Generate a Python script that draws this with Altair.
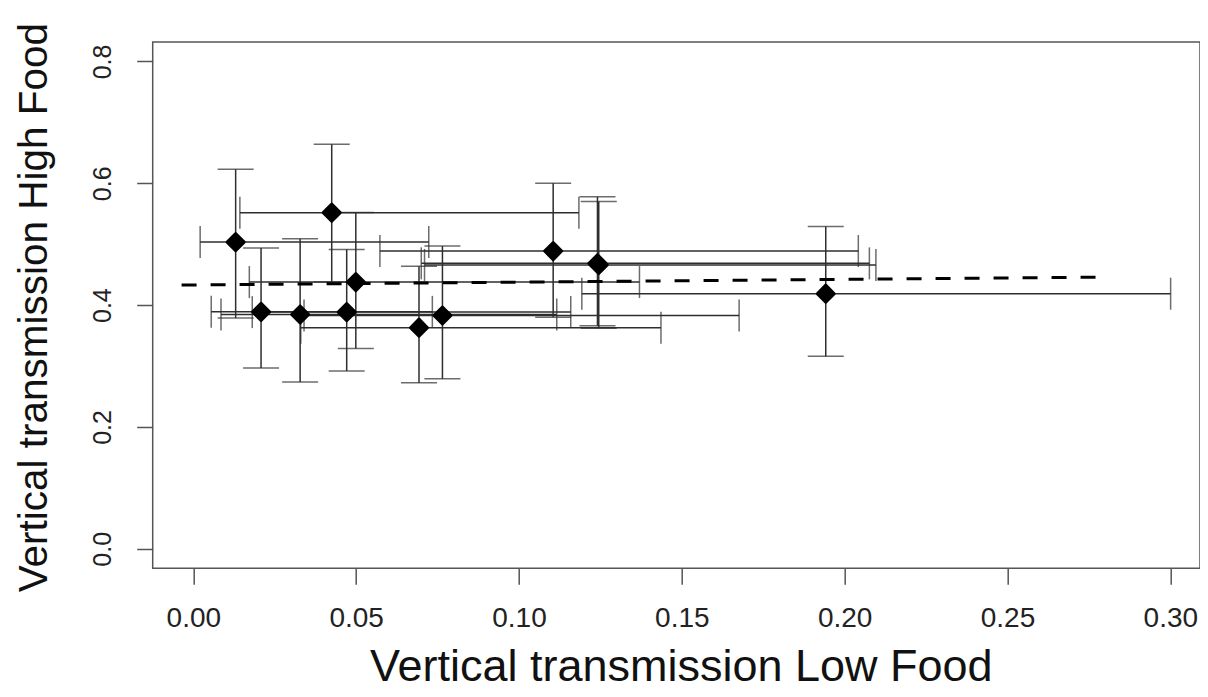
import altair as alt
import pandas as pd

# Point estimates and confidence limits
x_val = [0.0130, 0.0425, 0.0208, 0.0328, 0.0471, 0.0499, 0.0693, 0.0765, 0.1105, 0.1241, 0.1245, 0.1942]
x_lo = [0.0021, 0.0143, 0.0055, 0.0085, 0.0181, 0.0172, 0.0330, 0.0340, 0.0573, 0.0700, 0.0710, 0.1193]
x_hi = [0.0723, 0.1184, 0.0734, 0.1116, 0.1159, 0.1370, 0.1436, 0.1676, 0.2042, 0.2076, 0.2096, 0.3001]
y_val = [0.5035, 0.5518, 0.3890, 0.3847, 0.3886, 0.4379, 0.3630, 0.3830, 0.4888, 0.4686, 0.4660, 0.4188]
y_lo = [0.379, 0.438, 0.297, 0.274, 0.292, 0.329, 0.2726, 0.279, 0.380, 0.366, 0.362, 0.316]
y_hi = [0.623, 0.664, 0.494, 0.509, 0.4915, 0.552, 0.464, 0.497, 0.600, 0.578, 0.570, 0.529]

# Dashed fitted line end points
fit_x = [-0.0036, 0.2774]
fit_y = [0.433, 0.446]

x_ticks = [0.0, 0.05, 0.10, 0.15, 0.20, 0.25, 0.30]
y_ticks = [0.0, 0.2, 0.4, 0.6, 0.8]

x_title = "Vertical transmission Low Food"
y_title = "Vertical transmission High Food"

df = pd.DataFrame(dict(x=x_val, xlo=x_lo, xhi=x_hi, y=y_val, ylo=y_lo, yhi=y_hi))
fit = pd.DataFrame(dict(x=fit_x, y=fit_y))

W = 1047.3
H = 526.3
FONT = "Liberation Sans"
LINE = "#2e2e2e"

xs = alt.Scale(domain=[-0.01247, 0.30912], nice=False, zero=False)
ys = alt.Scale(domain=[-0.032, 0.832], nice=False, zero=False)

x_axis = alt.Axis(
    values=x_ticks, format=".2f", title=x_title, grid=False, domain=False,
    tickSize=16, tickColor="#555555", tickWidth=1.5,
    labelFont=FONT, labelFontSize=28, labelColor="#222222", labelPadding=20,
    labelFlush=False, labelOverlap=False,
    titleFont=FONT, titleFontSize=45, titleFontWeight="normal", titleColor="#111111",
    titleBaseline="alphabetic", titleY=112, titleX=528, titleAlign="center",
)
y_axis = alt.Axis(
    values=y_ticks, format=".1f", title=y_title, grid=False, domain=False,
    tickSize=16, tickColor="#555555", tickWidth=1.5,
    labelFont=FONT, labelFontSize=25, labelColor="#222222", labelPadding=26.7,
    labelAngle=-90, labelAlign="center", labelBaseline="alphabetic",
    labelFlush=False, labelOverlap=False,
    titleFont=FONT, titleFontSize=40.5, titleFontWeight="normal", titleColor="#111111",
    titleAngle=270, titleBaseline="alphabetic", titleAlign="center",
    titleX=-106, titleY=H / 2 + 2,
)

base = alt.Chart(df)

xbars = base.mark_rule(color=LINE, strokeWidth=1.5).encode(
    x=alt.X("xlo:Q", scale=xs, axis=x_axis), x2="xhi:Q",
    y=alt.Y("y:Q", scale=ys, axis=y_axis),
)
xcap_lo = base.mark_tick(orient="vertical", size=32, thickness=1.5, color=LINE).encode(
    x=alt.X("xlo:Q", scale=xs), y=alt.Y("y:Q", scale=ys)
)
xcap_hi = base.mark_tick(orient="vertical", size=32, thickness=1.5, color=LINE).encode(
    x=alt.X("xhi:Q", scale=xs), y=alt.Y("y:Q", scale=ys)
)
ybars = base.mark_rule(color=LINE, strokeWidth=1.5).encode(
    x=alt.X("x:Q", scale=xs), y=alt.Y("ylo:Q", scale=ys), y2="yhi:Q"
)
ycap_lo = base.mark_tick(orient="horizontal", size=36, thickness=1.5, color=LINE).encode(
    x=alt.X("x:Q", scale=xs), y=alt.Y("ylo:Q", scale=ys)
)
ycap_hi = base.mark_tick(orient="horizontal", size=36, thickness=1.5, color=LINE).encode(
    x=alt.X("x:Q", scale=xs), y=alt.Y("yhi:Q", scale=ys)
)
points = base.mark_point(
    shape="diamond", filled=True, size=290, color="black", opacity=1,
    stroke="black", strokeWidth=3, strokeJoin="round",
).encode(x=alt.X("x:Q", scale=xs), y=alt.Y("y:Q", scale=ys))

fitline = alt.Chart(fit).mark_line(
    color="black", strokeWidth=3, strokeDash=[15, 14], strokeCap="butt"
).encode(x=alt.X("x:Q", scale=xs), y=alt.Y("y:Q", scale=ys))

chart = alt.layer(
    xbars, xcap_lo, xcap_hi, ybars, ycap_lo, ycap_hi, fitline, points
).properties(
    width=W, height=H,
    padding={"left": 144.7, "top": 34, "right": 0, "bottom": 124},
    autosize=alt.AutoSizeParams(type="none"),
    background="white",
).configure_view(stroke="#555555", strokeWidth=1.5)

chart.save("out.html", embed_options={"renderer": "svg", "actions": False})
